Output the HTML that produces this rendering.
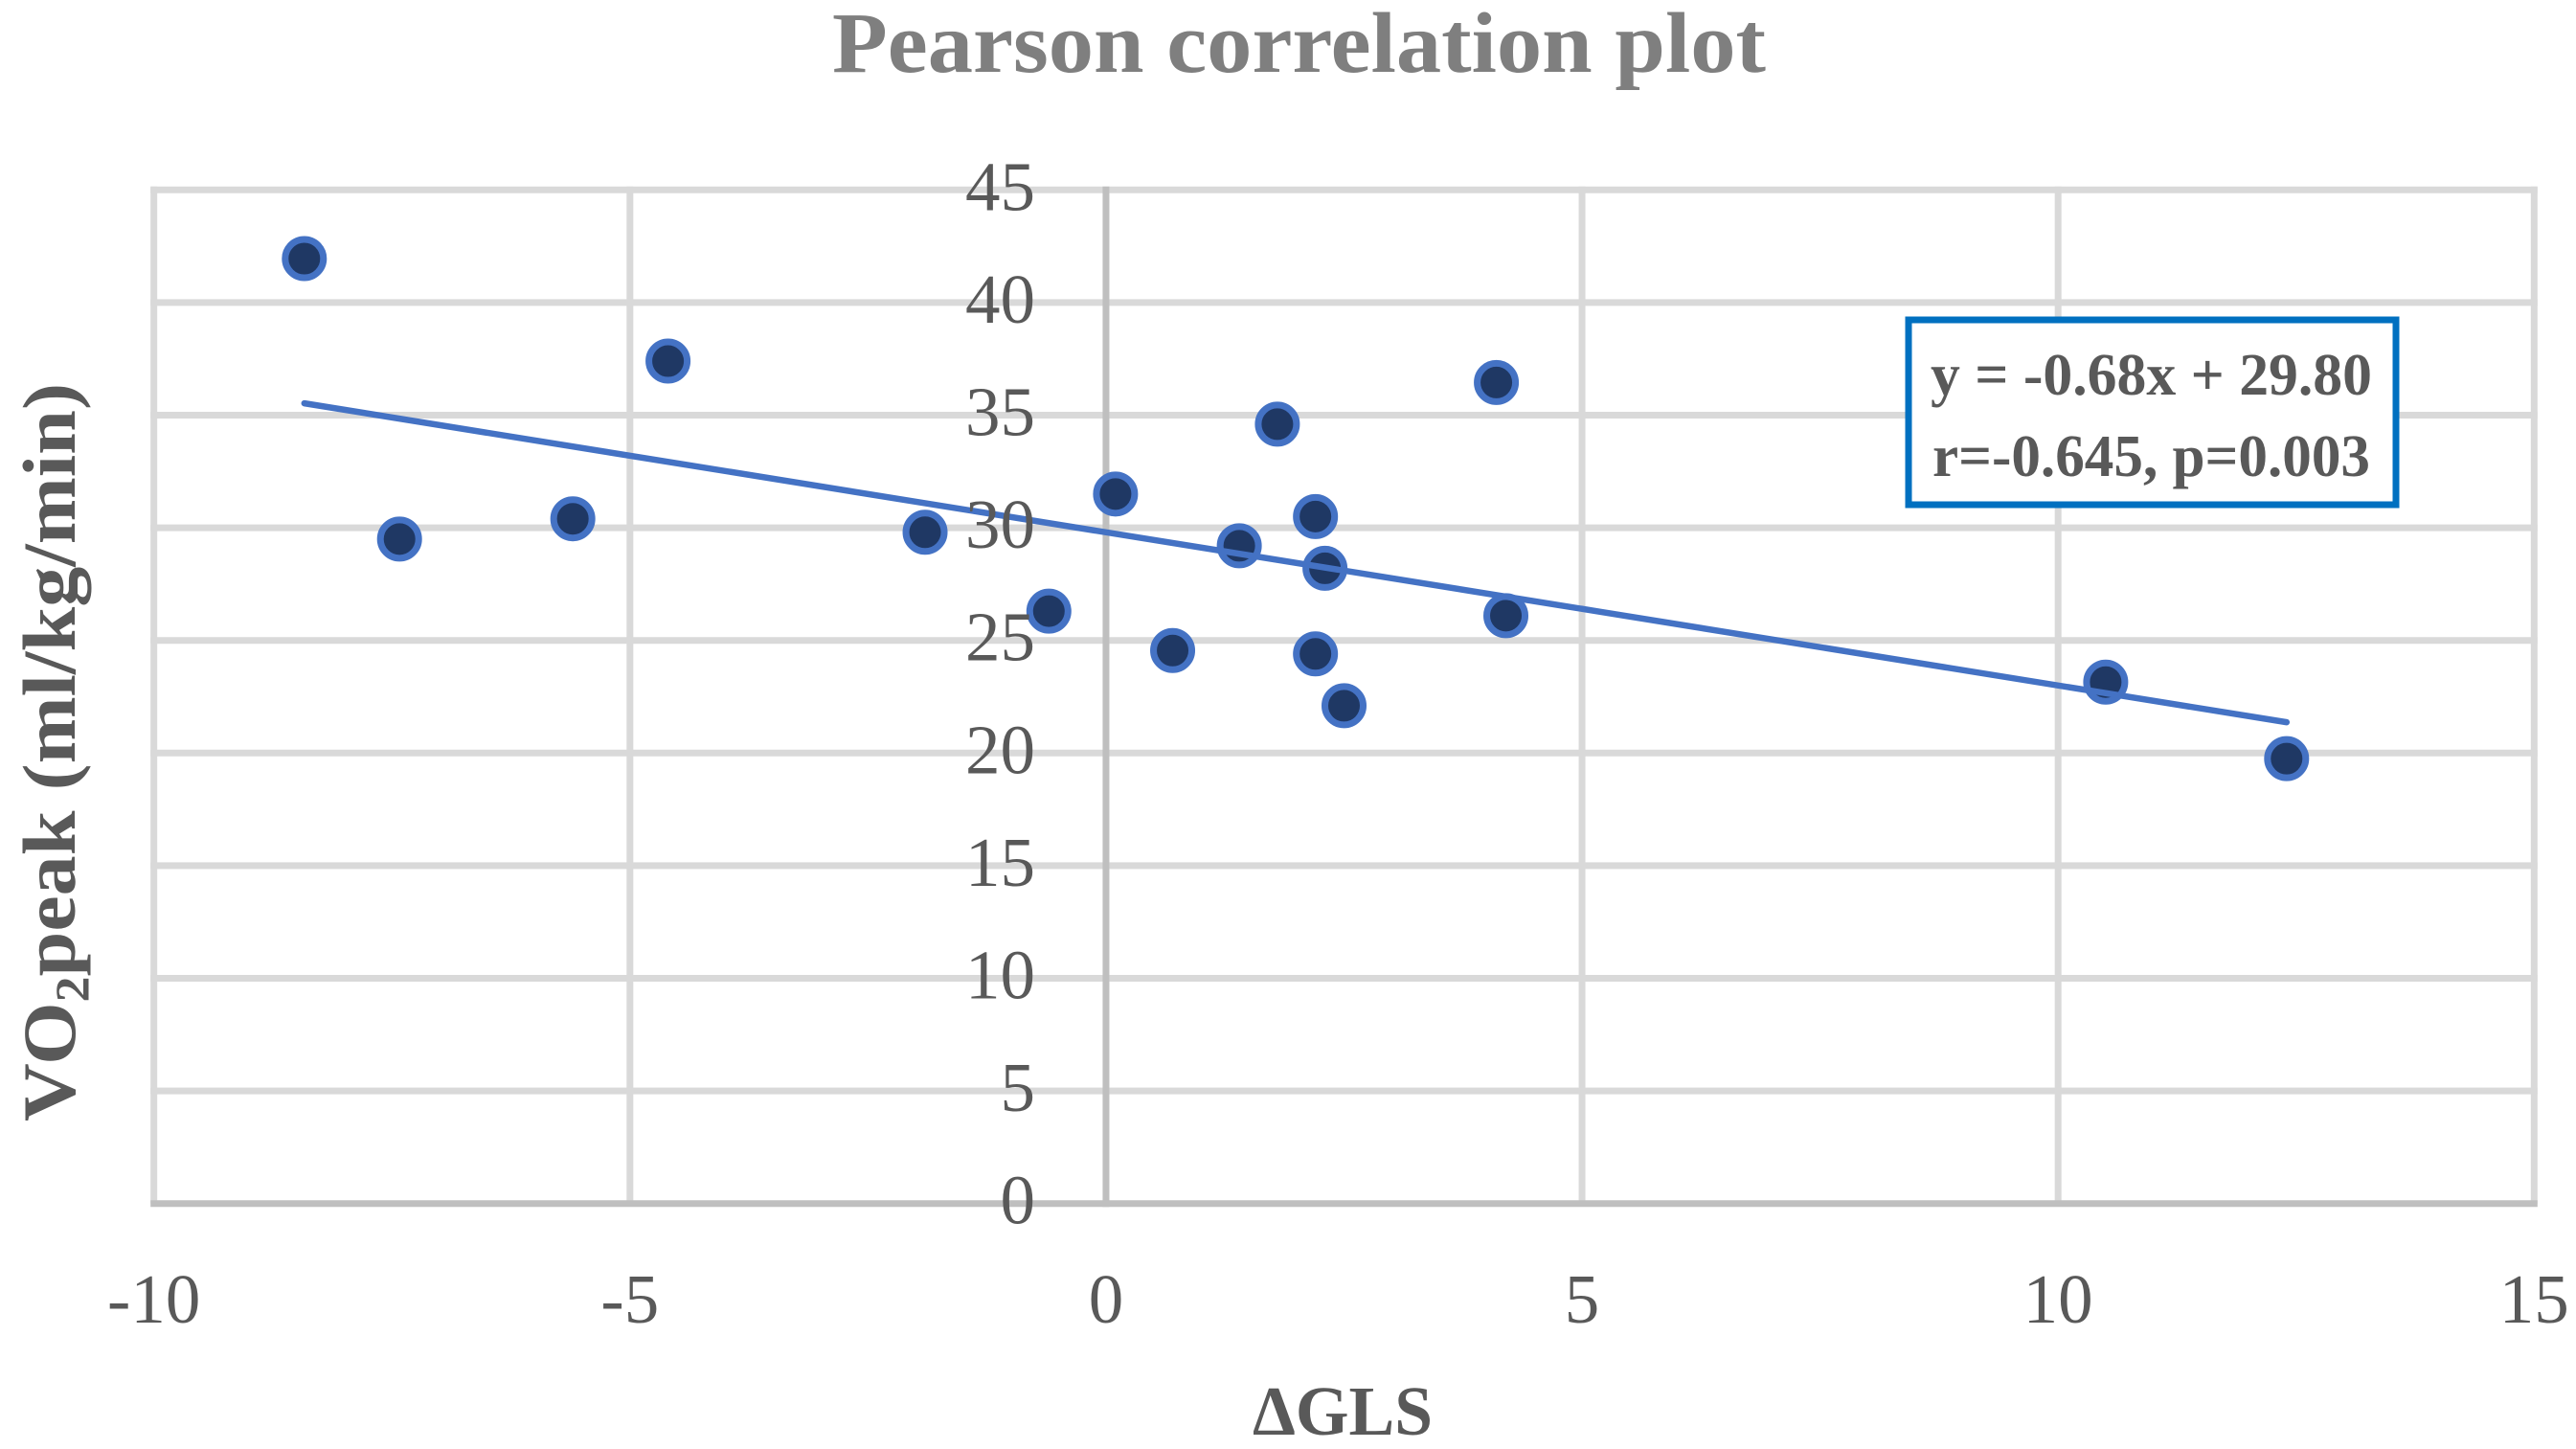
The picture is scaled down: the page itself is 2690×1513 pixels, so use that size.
<!DOCTYPE html>
<html lang="en">
<head>
<meta charset="utf-8">
<title>Pearson correlation plot</title>
<style>
html,body{margin:0;padding:0;background:#fff;}
svg{display:block;}
text{font-family:"Liberation Serif",serif;}
</style>
</head>
<body>
<svg id="chart" xmlns="http://www.w3.org/2000/svg" width="2690" height="1513" viewBox="0 0 2690 1513">
  <rect x="0" y="0" width="2690" height="1513" fill="#ffffff"/>
  <g id="grid"></g>
  <g id="points"></g>
  <g id="trend"></g>
  <g id="ticks"></g>
  <text x="869" y="75" font-size="90" font-weight="700" fill="#7f7f7f" textLength="975" lengthAdjust="spacingAndGlyphs">Pearson correlation plot</text>
  <text x="1308" y="1498" font-size="73" font-weight="700" fill="#595959" textLength="188" lengthAdjust="spacingAndGlyphs">ΔGLS</text>
  <text transform="translate(78,1171) rotate(-90)" x="0" y="0" font-size="78" font-weight="700" fill="#595959" textLength="771" lengthAdjust="spacingAndGlyphs">VO<tspan font-size="50" dy="14">2</tspan><tspan dy="-14">peak (ml/kg/min)</tspan></text>
  <g>
    <rect x="1993" y="334" width="509" height="193" fill="#ffffff" stroke="#0070c0" stroke-width="7"/>
    <text x="2016" y="412" font-size="62" font-weight="700" fill="#595959" textLength="461" lengthAdjust="spacingAndGlyphs">y = -0.68x + 29.80</text>
    <text x="2018" y="497" font-size="62" font-weight="700" fill="#595959" textLength="457" lengthAdjust="spacingAndGlyphs">r=-0.645, p=0.003</text>
  </g>
</svg>
<script>
const deltaGls = [-8.42, -7.42, -5.6, -4.6, -1.9, -0.6, 0.1, 0.7, 1.4, 1.8, 2.2, 2.2, 2.3, 2.5, 4.1, 4.2, 10.5, 12.4];
const vo2Peak = [41.95, 29.5, 30.4, 37.4, 29.8, 26.3, 31.5, 24.55, 29.2, 34.6, 30.5, 24.4, 28.2, 22.1, 36.45, 26.1, 23.15, 19.75];
const xTicks = [-10, -5, 0, 5, 10, 15];
const yTicks = [0, 5, 10, 15, 20, 25, 30, 35, 40, 45];
const trendSlope = -0.68;
const trendIntercept = 29.8;

const NS = 'http://www.w3.org/2000/svg';
const plotLeft = 160.7, plotRight = 2646.3, plotTop = 198.3, plotBottom = 1256.7;
const xMin = xTicks[0], xMax = xTicks[xTicks.length - 1];
const yMin = yTicks[0], yMax = yTicks[yTicks.length - 1];
function xScale(v) { return plotLeft + (v - xMin) / (xMax - xMin) * (plotRight - plotLeft); }
function yScale(v) { return plotBottom - (v - yMin) / (yMax - yMin) * (plotBottom - plotTop); }
function make(tag, attrs) {
  const el = document.createElementNS(NS, tag);
  Object.keys(attrs).forEach(function (k) { el.setAttribute(k, attrs[k]); });
  return el;
}
const grid = document.getElementById('grid');
const ticks = document.getElementById('ticks');
const points = document.getElementById('points');
const trend = document.getElementById('trend');

yTicks.forEach(function (t) {
  if (t === 0) return;
  const line = make('line', {x1: plotLeft - 3.5, x2: plotRight + 3.5, y1: yScale(t), y2: yScale(t), stroke: '#d9d9d9', 'stroke-width': 7});
  
  
  grid.appendChild(line);
});
xTicks.forEach(function (t) {
  if (t === 0) return;
  const line = make('line', {x1: xScale(t), x2: xScale(t), y1: plotTop - 3.5, y2: plotBottom, stroke: '#d9d9d9', 'stroke-width': 7});
  
  
  grid.appendChild(line);
});
const yAxisLine = make('line', {x1: xScale(0), x2: xScale(0), y1: plotTop - 3.5, y2: plotBottom + 3.5, stroke: '#bfbfbf', 'stroke-width': 7});


grid.appendChild(yAxisLine);
const xAxisLine = make('line', {x1: plotLeft - 3.5, x2: plotRight + 3.5, y1: yScale(0), y2: yScale(0), stroke: '#bfbfbf', 'stroke-width': 7});


grid.appendChild(xAxisLine);

deltaGls.forEach(function (x, i) {
  const c = make('circle', {cx: xScale(x), cy: yScale(vo2Peak[i]), r: 20, fill: '#1f3864', stroke: '#4472c4', 'stroke-width': 7});
  
  
  points.appendChild(c);
});

const trendStart = Math.min.apply(null, deltaGls);
const trendEnd = Math.max.apply(null, deltaGls);
const trendLine = make('line', {
  x1: xScale(trendStart), y1: yScale(trendSlope * trendStart + trendIntercept),
  x2: xScale(trendEnd), y2: yScale(trendSlope * trendEnd + trendIntercept),
  stroke: '#4472c4', 'stroke-width': 6.5, 'stroke-linecap': 'round'
});


trend.appendChild(trendLine);

yTicks.forEach(function (t) {
  const label = make('text', {x: 1081, y: yScale(t) + 21, 'text-anchor': 'end', 'font-size': 73, fill: '#595959'});
  label.textContent = String(t);
  
  
  ticks.appendChild(label);
});
xTicks.forEach(function (t) {
  const label = make('text', {x: xScale(t), y: 1381, 'text-anchor': 'middle', 'font-size': 73, fill: '#595959'});
  label.textContent = String(t);
  
  
  ticks.appendChild(label);
});
</script>
</body>
</html>
